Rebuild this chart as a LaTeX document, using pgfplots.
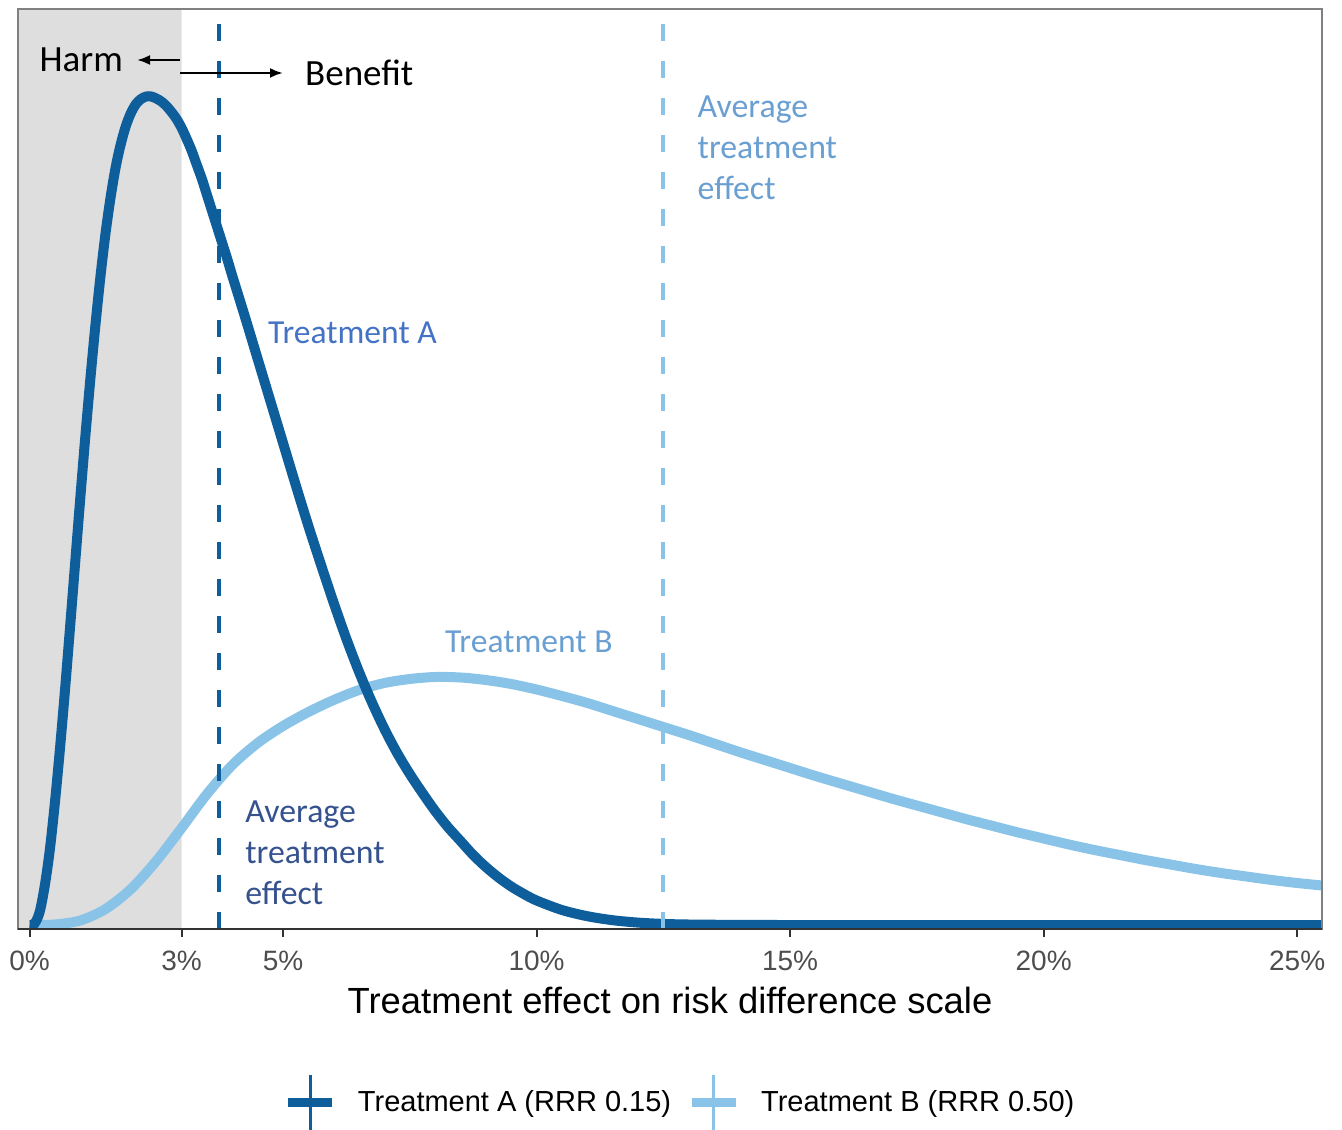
\documentclass[border=0pt]{standalone}
\usepackage{pgfplots}
\usepackage{pgfplotstable}
\pgfplotsset{compat=1.18}
\usetikzlibrary{arrows.meta}
\usepackage{fontspec}
\setmainfont{Liberation Sans}
\newfontfamily\carlito{Carlito}
\definecolor{colA}{HTML}{0F5E9C}
\definecolor{colB}{HTML}{89C4E8}
\definecolor{txtA}{HTML}{4472C4}
\definecolor{txtAdark}{HTML}{35528F}
\definecolor{txtB}{HTML}{6A9FD2}
\definecolor{shade}{HTML}{DEDEDE}
\definecolor{tickgray}{HTML}{4D4D4D}

\pgfplotstableread{
x y
0.0 0
0.1 0.15
0.2 1.3
0.3 3.9
0.4 7.5
0.5 12.2
0.6 17.6
0.7 23.5
0.8 29.8
0.9 36.2
1.0 42.6
1.1 48.8
1.2 54.6
1.3 60.0
1.4 64.9
1.5 69.2
1.6 72.8
1.7 75.8
1.8 78.1
1.9 79.9
2.0 81.2
2.1 82.1
2.2 82.6
2.3 82.85
2.4 82.85
2.5 82.65
2.6 82.35
2.7 81.9
2.8 81.3
2.9 80.6
3.0 79.7
3.1 78.6
3.2 77.4
3.3 76.0
3.4 74.6
3.5 73.0
3.6 71.4
3.7 69.8
3.8 68.2
3.9 66.6
4.0 64.9
4.25 60.8
4.5 56.6
4.75 52.4
5.0 48.2
5.25 44.0
5.5 39.9
5.75 36.0
6.0 32.2
6.25 28.6
6.5 25.3
6.75 22.3
7.0 19.6
7.25 17.2
7.5 15.1
7.75 13.2
8.0 11.4
8.25 9.8
8.5 8.4
8.75 7.0
9.0 5.8
9.25 4.75
9.5 3.85
9.75 3.1
10.0 2.45
10.5 1.5
11.0 0.88
11.5 0.48
12.0 0.24
12.5 0.11
13.0 0.05
14.0 0.01
15.0 0
20.0 0
25.49 0
}\curveA

\pgfplotstableread{
x y
0.0 0
0.5 0.05
1.0 0.45
1.5 1.6
2.0 3.6
2.5 6.4
3.0 9.7
3.5 13.1
4.0 16.0
4.5 18.2
5.0 19.9
5.5 21.3
6.0 22.5
6.5 23.5
7.0 24.2
7.5 24.6
8.0 24.8
8.5 24.75
9.0 24.5
9.5 24.1
10.0 23.55
10.5 22.9
11.0 22.2
11.5 21.4
12.0 20.6
12.5 19.8
13.0 19.0
13.5 18.15
14.0 17.3
14.5 16.5
15.0 15.7
15.5 14.9
16.0 14.15
16.5 13.4
17.0 12.65
17.5 11.95
18.0 11.25
18.5 10.55
19.0 9.9
19.5 9.25
20.0 8.65
20.5 8.05
21.0 7.5
21.5 7.0
22.0 6.5
22.5 6.05
23.0 5.6
23.5 5.2
24.0 4.85
24.5 4.5
25.0 4.2
25.49 3.95
}\curveB

\begin{document}
\begin{tikzpicture}
\begin{axis}[
  scale only axis, width=652pt, height=460pt,
  xmin=-0.227, xmax=25.49, ymin=-0.4, ymax=91.6,
  axis on top, clip mode=individual,
  xtick={0,3,5,10,15,20,25},
  xticklabels={0\%,3\%,5\%,10\%,15\%,20\%,25\%},
  xtick pos=bottom, tick align=outside, major tick length=4pt,
  ytick=\empty,
  every tick/.style={draw=black!80, line width=1pt},
  axis line style={draw=black!50, line width=0.9pt},
  xticklabel style={font=\fontsize{14}{16}\selectfont, text=tickgray, anchor=base, yshift=-16.5pt},
  xlabel={Treatment effect on risk difference scale},
  xlabel style={font=\fontsize{18.2}{21}\selectfont, at={(axis description cs:0.5,0)}, anchor=base, yshift=-42pt},
  legend style={at={(0.507,-0.189)}, anchor=center, draw=none, fill=none,
    font=\fontsize{14.5}{17}\selectfont, inner sep=0pt,
    nodes={inner sep=0pt},
    /tikz/every odd column/.append style={column sep=10.5pt},
    /tikz/every even column/.append style={column sep=8pt}},
  legend columns=2, legend cell align=left,
]
\addplot[draw=none, fill=shade, forget plot] coordinates {(-0.227,-0.4) (3,-0.4) (3,91.6) (-0.227,91.6) (-0.227,-0.4)};
\addplot[colB, line width=5pt, smooth, forget plot] table[x=x,y=y] {\curveB};
\addplot[colA, line width=5pt, smooth, forget plot] table[x=x,y=y] {\curveA};
\addplot[colA, line width=2pt, dash pattern=on 8.5pt off 10pt, forget plot] coordinates {(3.74,-0.4) (3.74,91.6)};
\addplot[colB, line width=2pt, dash pattern=on 8.5pt off 10pt, forget plot] coordinates {(12.49,-0.4) (12.49,91.6)};

\addlegendimage{legend image code/.code={\draw[colA, line width=4.5pt] (0pt,0pt) -- (22pt,0pt); \draw[colA, line width=1.3pt] (11pt,-14pt) -- (11pt,14pt);}}
\addlegendentry{Treatment A (RRR 0.15)}
\addlegendimage{legend image code/.code={\draw[colB, line width=4.5pt] (0pt,0pt) -- (22pt,0pt); \draw[colB, line width=1.3pt] (11pt,-14pt) -- (11pt,14pt);}}
\addlegendentry{Treatment B (RRR 0.50)}

\node[anchor=center, font=\carlito\fontsize{18.5}{22}\selectfont, inner sep=0pt] at (axis cs:1.02,86.5) {Harm};
\draw[line width=1.2pt, -{Latex[length=6.5pt,width=5pt]}] (axis cs:2.97,86.5) -- (axis cs:2.12,86.5);
\draw[line width=1.2pt, -{Latex[length=6.5pt,width=5pt]}] (axis cs:2.97,85.2) -- (axis cs:5.0,85.2);
\node[anchor=west, font=\carlito\fontsize{18.5}{22}\selectfont, inner sep=0pt] at (axis cs:5.43,85.2) {Benefit};
\node[anchor=west, font=\carlito\fontsize{16.8}{20.5}\selectfont, text=txtA, inner sep=0pt] at (axis cs:4.70,59.2) {Treatment A};
\node[anchor=west, font=\carlito\fontsize{16.8}{20.5}\selectfont, text=txtB, inner sep=0pt] at (axis cs:8.19,28.3) {Treatment B};
\node[anchor=west, align=left, font=\carlito\fontsize{16.9}{20.5}\selectfont, text=txtAdark, inner sep=0pt] at (axis cs:4.25,7.2) {Average\\treatment\\effect};
\node[anchor=west, align=left, font=\carlito\fontsize{16.9}{20.5}\selectfont, text=txtB, inner sep=0pt] at (axis cs:13.17,77.7) {Average\\treatment\\effect};
\end{axis}
\draw[black!80, line width=1pt] (current axis.south west) -- (current axis.south east);
\pgfresetboundingbox
\path[use as bounding box] (-9pt,-100pt) rectangle (662pt,464.5pt);
\end{tikzpicture}
\end{document}
